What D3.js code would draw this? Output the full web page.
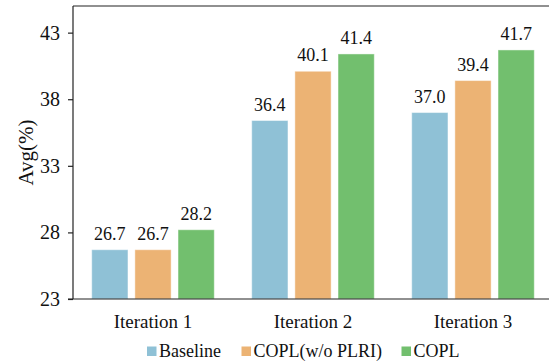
<!DOCTYPE html>
<html>
<head>
<meta charset="utf-8">
<script src="https://cdn.jsdelivr.net/npm/d3@7"></script>
<style>
html,body{margin:0;padding:0;background:#fff;}
svg{display:block;}
</style>
</head>
<body>
<svg id="chart" width="549" height="362"></svg>
<script>
const categories = ["Iteration 1", "Iteration 2", "Iteration 3"];
const seriesNames = ["Baseline", "COPL(w/o PLRI)", "COPL"];
const baseline = [26.7, 36.4, 37.0];
const coplNoPlri = [26.7, 40.1, 39.4];
const copl = [28.2, 41.4, 41.7];
const yTicks = [23, 28, 33, 38, 43];
const colors = ["#8fc1d6", "#ecb374", "#72bf6e"];

(function () {
const FONT = '"Liberation Serif", "Times New Roman", serif';
const seriesValues = [baseline, coplNoPlri, copl];
const svg = d3.select("#chart");
const pLeft = 73, pRight = 553, pTop = 6, pBottom = 299;

const x0 = d3.scaleBand().domain(categories).range([pLeft, pRight]).paddingInner(0).paddingOuter(0);
const bw = x0.bandwidth();
const x1 = d3.scaleBand().domain(seriesNames).range([bw * 0.117, bw * 0.883]).paddingInner(0.16).paddingOuter(0);
const y = d3.scaleLinear().domain([23, 45]).range([pBottom, pTop]);

// bars
const groups = svg.append("g").selectAll("g").data(categories).join("g")
  .attr("transform", d => `translate(${x0(d)},0)`);
groups.selectAll("rect")
  .data((c, i) => seriesNames.map((s, j) => ({s, j, v: seriesValues[j][i]})))
  .join("rect")
  .attr("x", d => x1(d.s))
  .attr("width", x1.bandwidth())
  .attr("y", d => y(d.v))
  .attr("height", d => y(23) - y(d.v))
  .attr("fill", d => colors[d.j])
  .attr("stroke", "rgba(255,255,255,0.45)")
  .attr("stroke-width", 1);
groups.selectAll("text.val")
  .data((c, i) => seriesNames.map((s, j) => ({s, j, v: seriesValues[j][i]})))
  .join("text")
  .attr("class", "val")
  .attr("x", d => x1(d.s) + x1.bandwidth() / 2)
  .attr("y", d => y(d.v) - 10)
  .attr("text-anchor", "middle")
  .style("font-family", FONT)
  .style("font-size", "18px")
  .style("fill", "#111")
  .text(d => d.v.toFixed(1));

// frame top line
svg.append("line").attr("x1", pLeft).attr("x2", pRight).attr("y1", pTop).attr("y2", pTop)
  .attr("stroke", "#222").attr("stroke-width", 1.2);

// y axis
const yAxis = svg.append("g").attr("transform", `translate(${pLeft},0)`)
  .call(d3.axisLeft(y).tickValues(yTicks).tickSize(5).tickPadding(8).tickFormat(d3.format("d")));
yAxis.select(".domain").remove();
yAxis.append("line").attr("x1", 0).attr("x2", 0).attr("y1", pTop).attr("y2", pBottom)
  .attr("stroke", "#222").attr("stroke-width", 1.2);
yAxis.selectAll(".tick line").attr("stroke", "#222").attr("stroke-width", 1.2);
yAxis.selectAll(".tick text").style("font-size", "20px").style("font-family", FONT).style("fill", "#111");

// x axis
const xAxis = svg.append("g").attr("transform", `translate(0,${pBottom})`)
  .call(d3.axisBottom(x0).tickSize(0).tickPadding(16));
xAxis.select(".domain").remove();
xAxis.append("line").attr("x1", pLeft - 5).attr("x2", pRight).attr("y1", 0).attr("y2", 0)
  .attr("stroke", "#222").attr("stroke-width", 1.2);
xAxis.selectAll(".tick text").style("font-size", "19px").style("font-family", FONT).style("fill", "#111");

// y label
svg.append("text")
  .attr("transform", `translate(33,${(pTop + pBottom) / 2}) rotate(-90)`)
  .attr("text-anchor", "middle")
  .style("font-family", FONT)
  .style("font-size", "21px")
  .style("fill", "#111")
  .text("Avg(%)");

// legend
const legendX = [147, 241.5, 401.5];
const lg = svg.append("g").selectAll("g").data(seriesNames).join("g")
  .attr("transform", (d, i) => `translate(${legendX[i]},346.5)`);
lg.append("rect").attr("width", 9.5).attr("height", 9.5).attr("fill", (d, i) => colors[i]);
lg.append("text").attr("x", 12).attr("y", 10)
  .style("font-family", FONT).style("font-size", "18px").style("fill", "#111")
  .text(d => d);
})();
</script>
</body>
</html>
